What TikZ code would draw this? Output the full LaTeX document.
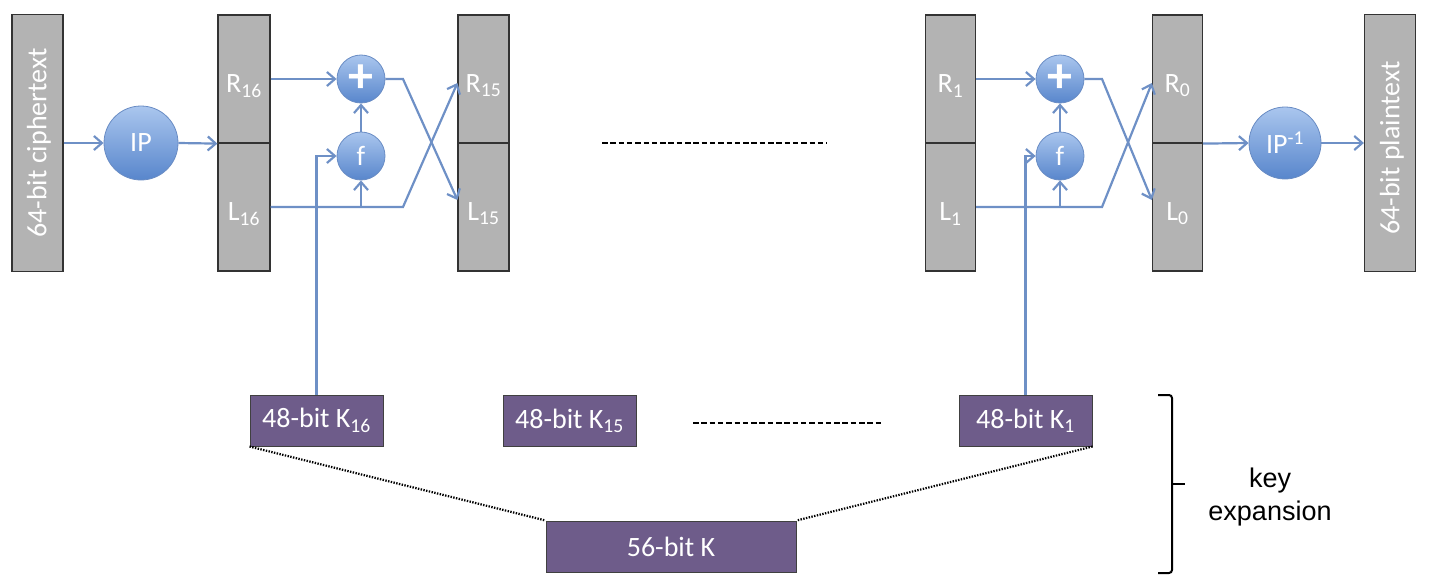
\documentclass[tikz,border=0pt]{standalone}
\usepackage{fontspec}
\setmainfont{Carlito}
\newfontfamily\arialfont{Liberation Sans}
\usetikzlibrary{arrows.meta}
\definecolor{boxgray}{RGB}{179,179,179}
\definecolor{keypurple}{RGB}{110,92,138}
\definecolor{conncol}{RGB}{110,144,198}
\definecolor{circtop}{RGB}{170,198,238}
\definecolor{circbot}{RGB}{88,134,204}
\definecolor{circline}{RGB}{105,140,196}
\tikzset{
  half/.style={draw=black!80, line width=1.2pt, fill=boxgray, minimum width=52pt, minimum height=128pt, inner sep=0pt},
  tall/.style={draw=black!80, line width=1.2pt, fill=boxgray, minimum width=51pt, minimum height=257pt, inner sep=0pt},
  lbl/.style={text=white, font=\fontsize{28}{32}\selectfont, inner sep=0pt},
  opcirc/.style={circle, draw=circline, line width=0.8pt, top color=circtop, bottom color=circbot, minimum size=48pt, inner sep=0pt, text=white, font=\fontsize{28}{32}\selectfont},
  bigcirc/.style={opcirc, minimum size=74pt},
  keybox/.style={draw=black!75, line width=1pt, fill=keypurple, minimum width=133pt, minimum height=51pt, inner sep=0pt, text=white, font=\fontsize{28}{32}\selectfont},
  conn/.style={draw=conncol, line width=2.2pt, -{Straight Barb[length=8pt,width=14pt]}},
  gap/.style={draw=black, line width=2.6pt, dash pattern=on 5.5pt off 2.8pt},
  dots/.style={draw=black, line width=2.2pt, dash pattern=on 1.4pt off 1.4pt},
}
\begin{document}
\begin{tikzpicture}[x=1pt,y=-1pt]
\useasboundingbox (0,0) rectangle (1453,586);
% input / output boxes
\node[tall] (ct) at (37.5,143) {};
\node[lbl, rotate=90] (ctt) at (39,143) {64-bit ciphertext};
\node[tall] (pt) at (1390,143) {};
\node[lbl, rotate=90] (ptt) at (1392,148) {64-bit plaintext};
% IP circles
\node[bigcirc] (ip) at (141,143) {IP};
\node[bigcirc, minimum size=72pt] (ipi) at (1285,143) {IP\textsuperscript{-1}};
% round 16 halves
\node[half] (R16) at (244,79) {};
\node[half] (L16) at (244,207) {};
\node[lbl] (R16t) at ([yshift=-7pt]R16.center) {R\textsubscript{16}};
\node[lbl] (L16t) at ([yshift=-7pt]L16.center) {L\textsubscript{16}};
\node[half, minimum width=51pt] (R15) at (483.5,79) {};
\node[half, minimum width=51pt] (L15) at (483.5,207) {};
\node[lbl] (R15t) at ([yshift=-7pt]R15.center) {R\textsubscript{15}};
\node[lbl] (L15t) at ([yshift=-7pt]L15.center) {L\textsubscript{15}};
\node[half, minimum width=50pt] (R1) at (950.5,79) {};
\node[half, minimum width=50pt] (L1) at (950.5,207) {};
\node[lbl] (R1t) at ([yshift=-7pt]R1.center) {R\textsubscript{1}};
\node[lbl] (L1t) at ([yshift=-7pt]L1.center) {L\textsubscript{1}};
\node[half, minimum width=50pt] (R0) at (1177.5,79) {};
\node[half, minimum width=50pt] (L0) at (1177.5,207) {};
\node[lbl] (R0t) at ([yshift=-7pt]R0.center) {R\textsubscript{0}};
\node[lbl] (L0t) at ([yshift=-7pt]L0.center) {L\textsubscript{0}};
% round operators
\node[opcirc, font=\fontsize{50}{50}\selectfont\bfseries] (xa) at (361,79) {+};
\node[opcirc] (fa) at (361,156) {f};
\node[opcirc, font=\fontsize{50}{50}\selectfont\bfseries] (xb) at (1060,79) {+};
\node[opcirc] (fb) at (1060,156) {f};
% keys
\node[keybox] (K16) at (316.5,420.5) {48-bit K\textsubscript{16}};
\node[keybox] (K15) at (569.5,420.5) {48-bit K\textsubscript{15}};
\node[keybox] (K1) at (1025.5,420.5) {48-bit K\textsubscript{1}};
\node[keybox, minimum width=250pt] (K) at (671,546.5) {56-bit K};
% crossing columns
\coordinate (cxa) at (403,0);
\coordinate (cxb) at (1102,0);
% connectors left
\draw[conn] (ct.east) -- (ip.west);
\draw[conn] (ip.east) -- (R16.south west);
\draw[conn] (R16.east) -- (xa.west);
\draw[conn] (L16.east) -- (L16.east -| cxa) -- ([yshift=-4pt]R15.west);
\draw[conn] (xa.east) -- (xa.east -| cxa) -- ([yshift=7pt]L15.west);
\draw[conn] (L16.east -| fa.south) -- (fa.south);
\draw[conn] (fa.north) -- (xa.south);
\draw[conn] (K16.north) -- (K16.north |- fa.west) -- (fa.west);
% connectors right
\draw[conn] (R1.east) -- (xb.west);
\draw[conn] (L1.east) -- (L1.east -| cxb) -- ([yshift=-4pt]R0.west);
\draw[conn] (xb.east) -- (xb.east -| cxb) -- ([yshift=7pt]L0.west);
\draw[conn] (L1.east -| fb.south) -- (fb.south);
\draw[conn] (fb.north) -- (xb.south);
\draw[conn] (K1.north) -- (K1.north |- fb.west) -- (fb.west);
\draw[conn] (R0.south east) -- (ipi.west);
\draw[conn] (ipi.east) -- (pt.west);
% gaps
\coordinate (ga) at (602,143);
\coordinate (gb) at (827,143);
\draw[gap] (ga) -- (gb);
\coordinate (gc) at (693,423);
\coordinate (gd) at (882,423);
\draw[gap] (gc) -- (gd);
% key schedule
\draw[dots] (K16.south west) -- (K.north west);
\draw[dots] (K1.south east) -- (K.north east);
% bracket
\draw[black, line width=2pt, rounded corners=3pt] (1158,395) -- (1172,395) -- (1172,573) -- (1158,573);
\draw[black, line width=2pt] (1172,484) -- (1185,484);
\node[align=center, font=\arialfont\fontsize{27}{33}\selectfont] (ke) at (1270,497) {key\\expansion};
\end{tikzpicture}
\end{document}
